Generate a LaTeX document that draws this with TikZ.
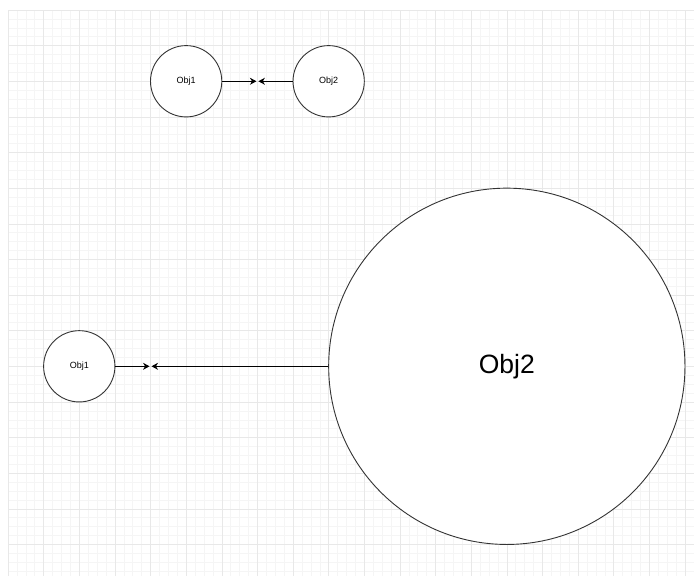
\documentclass[tikz,border=0pt]{standalone}
\usepackage{fontspec}
\setmainfont{Liberation Sans}
\usetikzlibrary{positioning, arrows.meta}

\begin{document}
\begin{tikzpicture}[x=1pt, y=-1pt]
    % Stili per oggetti e frecce
    \tikzset{
        oggetto/.style={
            circle,
            draw=black!80,
            line width=0.9pt,
            fill=white,
            inner sep=0pt,
            minimum size=71.3pt,
            font=\fontsize{9}{10}\selectfont
        },
        grande/.style={
            oggetto,
            minimum size=356.3pt,
            font=\fontsize{26.5}{30}\selectfont
        },
        freccia/.style={
            line width=0.9pt,
            shorten >=1pt,
            -{Stealth[length=6.5pt, width=7pt]}
        }
    }
    \def\g{35.63}

    \useasboundingbox (0,0) rectangle (694,576);
    \fill[white] (0,0) rectangle (694,576);

    % --- Griglia di sfondo ---
    \begin{scope}
        \clip (8,10) rectangle (694,576);
        \foreach \i in {0,...,78} {
            \draw[black!4, line width=0.5pt] ({8+\i*\g/4},10) -- ({8+\i*\g/4},576);
        }
        \foreach \i in {0,...,64} {
            \draw[black!4, line width=0.5pt] (8,{10+\i*\g/4}) -- (694,{10+\i*\g/4});
        }
        \foreach \i in {0,...,19} {
            \draw[black!9, line width=0.5pt] ({8+\i*\g},10) -- ({8+\i*\g},576);
        }
        \foreach \i in {0,...,16} {
            \draw[black!9, line width=0.5pt] (8,{10+\i*\g}) -- (694,{10+\i*\g});
        }
    \end{scope}

    % --- Schema superiore: oggetti uguali ---
    \node[oggetto] (obj1a) at ({8+5*\g},{10+2*\g}) {Obj1};
    \node[oggetto] (obj2a) at ({8+9*\g},{10+2*\g}) {Obj2};
    \coordinate (incontroA) at ({8+7*\g},{10+2*\g});

    \draw[freccia] (obj1a) -- (incontroA);
    \draw[freccia] (obj2a) -- (incontroA);

    % --- Schema inferiore: Obj2 molto piu' grande ---
    \node[oggetto] (obj1b) at ({8+2*\g},{10+10*\g}) {Obj1};
    \node[grande] (obj2b) at ({8+14*\g},{10+10*\g}) {Obj2};
    \coordinate (incontroB) at ({8+4*\g},{10+10*\g});

    \draw[freccia] (obj1b) -- (incontroB);
    \draw[freccia] (obj2b) -- (incontroB);

\end{tikzpicture}
\end{document}
